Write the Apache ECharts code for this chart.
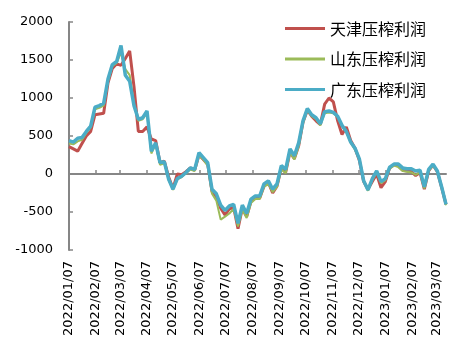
<!DOCTYPE html>
<html>
<head>
<meta charset="utf-8">
<script src="https://cdn.jsdelivr.net/npm/echarts@6/dist/echarts.min.js"></script>
<style>
  html, body { margin: 0; padding: 0; background: #fff; }
  #chart { width: 472px; height: 354px; }
</style>
</head>
<body>
<div id="chart"></div>
<script>
// daily axis from 2022/01/07, values sampled every 5 days
var startDate = '2022-01-07';
var dayCount = 436;
var sampleStep = 5;

var seriesNames = ['天津压榨利润', '山东压榨利润', '广东压榨利润'];

var tianjin = [360, 330, 300, 400, 500, 560, 780, 790, 800, 1200,
  1390, 1450, 1430, 1520, 1620, 1150, 560, 560, 620, 460,
  440, 150, 170, -40, -190, 0, -10, 30, 80, 50,
  250, 190, 130, -230, -300, -450, -540, -460, -440, -720,
  -450, -560, -360, -320, -320, -160, -110, -250, -160, 80,
  20, 290, 200, 370, 680, 840, 760, 700, 650, 920,
  1000, 950, 700, 520, 620, 440, 340, 180, -100, -200,
  -100, 0, -180, -100, 80, 120, 110, 50, 40, 30,
  -20, 20, -200, 40, 120, 30, -180, -400];

var shandong = [400, 390, 430, 450, 540, 610, 850, 870, 900, 1220,
  1420, 1460, 1600, 1380, 1300, 920, 700, 720, 800, 270,
  390, 120, 140, -80, -210, -70, -40, 10, 60, 40,
  250, 190, 110, -260, -350, -600, -560, -520, -460, -690,
  -470, -580, -380, -330, -330, -170, -130, -240, -170, 60,
  10, 280, 190, 360, 670, 840, 760, 720, 640, 800,
  810, 800, 750, 630, 550, 410, 320, 190, -100, -220,
  -80, 20, -120, -80, 70, 110, 90, 40, 30, 20,
  -10, 20, -190, 40, 110, 30, -180, -410];

var guangdong = [440, 420, 470, 480, 560, 630, 880, 900, 930, 1250,
  1440, 1480, 1690, 1300, 1220, 900, 720, 740, 830, 300,
  410, 150, 160, -70, -200, -60, -30, 20, 80, 60,
  280, 215, 150, -200, -260, -410, -480, -420, -400, -650,
  -410, -520, -330, -290, -290, -130, -90, -200, -130, 110,
  60, 330, 240, 410, 700, 860, 780, 740, 660, 820,
  830, 810, 760, 640, 560, 420, 340, 200, -90, -210,
  -60, 40, -100, -60, 90, 130, 130, 80, 70, 70,
  40, 50, -170, 60, 130, 40, -170, -400];

function pad(n) { return n < 10 ? '0' + n : '' + n; }
var days = [];
var t0 = Date.parse(startDate + 'T00:00:00Z');
for (var i = 0; i < dayCount; i++) {
  var d = new Date(t0 + i * 86400000);
  days.push(d.getUTCFullYear() + '/' + pad(d.getUTCMonth() + 1) + '/' + pad(d.getUTCDate()));
}
function toPairs(vals) {
  return vals.map(function (v, i) { return [days[i * sampleStep], v]; });
}
function isMonthMark(idx, val) { return val.slice(8) === '07'; }

var axisGray = '#868686';
var chart = echarts.init(document.getElementById('chart'));
chart.setOption({
  animation: false,
  grid: { left: 69, right: 26, top: 22, bottom: 104 },
  legend: {
    orient: 'vertical',
    left: 280,
    top: 15,
    icon: 'rect',
    itemWidth: 40,
    itemHeight: 3,
    itemGap: 13.5,
    textStyle: { fontFamily: 'Noto Sans CJK SC', fontSize: 16, color: '#000', lineHeight: 17 },
    data: seriesNames
  },
  xAxis: [{
    type: 'category',
    data: days,
    boundaryGap: false,
    position: 'bottom',
    axisLine: { show: false, onZero: false },
    axisTick: { show: false },
    axisLabel: {
      rotate: 90,
      interval: isMonthMark,
      margin: 11,
      fontFamily: 'DejaVu Sans',
      fontSize: 13,
      color: '#000'
    }
  }, {
    type: 'category',
    data: days,
    boundaryGap: false,
    position: 'bottom',
    axisLine: { show: true, onZero: true, lineStyle: { color: axisGray, width: 2 } },
    axisTick: { show: true, inside: true, length: 4, interval: isMonthMark, lineStyle: { color: axisGray, width: 1.5 } },
    axisLabel: { show: false }
  }],
  yAxis: {
    type: 'value',
    min: -1000,
    max: 2000,
    interval: 500,
    splitLine: { show: false },
    axisLine: { show: true, lineStyle: { color: axisGray, width: 2 } },
    axisTick: { show: true, inside: true, length: 4, lineStyle: { color: axisGray, width: 1.5 } },
    axisLabel: {
      margin: 16,
      fontFamily: 'DejaVu Sans',
      fontSize: 13,
      color: '#000',
      formatter: function (v) { return String(v); }
    }
  },
  series: [{
    name: seriesNames[0],
    type: 'line',
    symbol: 'none',
    data: toPairs(tianjin),
    lineStyle: { color: '#C0504D', width: 3 },
    itemStyle: { color: '#C0504D' }
  }, {
    name: seriesNames[1],
    type: 'line',
    symbol: 'none',
    data: toPairs(shandong),
    lineStyle: { color: '#9BBB59', width: 2 },
    itemStyle: { color: '#9BBB59' }
  }, {
    name: seriesNames[2],
    type: 'line',
    symbol: 'none',
    data: toPairs(guangdong),
    lineStyle: { color: '#4BACC6', width: 3.5 },
    itemStyle: { color: '#4BACC6' }
  }]
});
</script>
</body>
</html>
